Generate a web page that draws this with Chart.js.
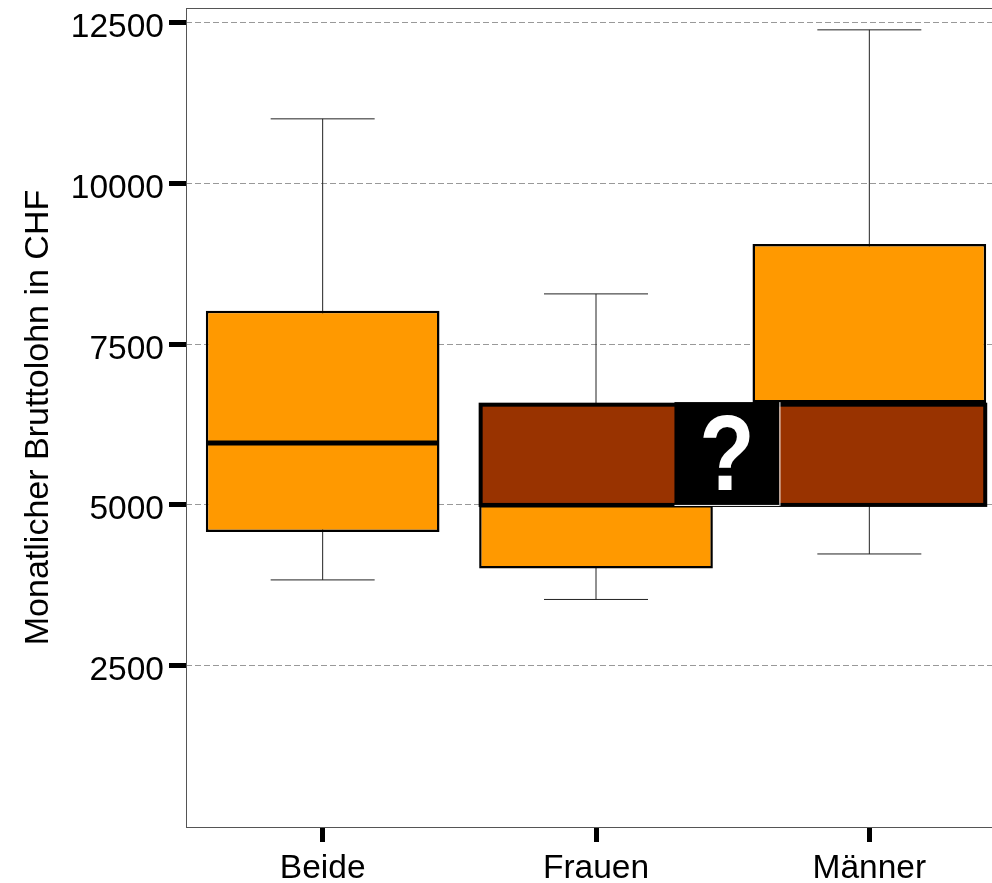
<!DOCTYPE html>
<html>
<head>
<meta charset="utf-8">
<script src="https://cdn.jsdelivr.net/npm/chart.js@4"></script>
<style>
  html, body { margin: 0; padding: 0; background: #fff; overflow: hidden; }
  canvas { display: block; }
</style>
</head>
<body>
<canvas id="grafico" width="1008" height="883"></canvas>
<script>
const categories = ["Beide", "Frauen", "Männer"];
const whiskerLow = [3833, 3529, 4237];
const whiskerHigh = [11008, 8284, 12393];
const q1 = [4580, 4012, 5100];
const median = [5965, 5000, 6595];
const q3 = [8020, 6500, 9060];
const yTicks = [2500, 5000, 7500, 10000, 12500];

// the band and the "?" box that hide part of the boxes, in axis units
const bandX = [0.578, 2.424];
const bandY = [5000, 6560];
const maskX = [1.287, 1.671];
const maskY = [5000, 6600];

const FONT = "'Liberation Sans', Arial, sans-serif";

// one line dataset per whisker, the caps are "line" points
const whiskers = categories.map((c, i) => ({
  type: "line",
  order: 3,
  data: [{ x: c, y: whiskerLow[i] }, { x: c, y: whiskerHigh[i] }],
  borderColor: "#222",
  borderWidth: 1,
  pointStyle: "line",
  pointRadius: 52,
  pointBorderColor: "#222",
  pointBorderWidth: 1,
}));

const medians = {
  type: "line",
  order: 1,
  data: median,
  showLine: false,
  pointStyle: "line",
  pointRadius: 116,
  pointBorderColor: "#000",
  pointBorderWidth: 5,
};

const boxes = {
  type: "bar",
  order: 2,
  data: categories.map((c, i) => [q1[i], q3[i]]),
  backgroundColor: "#ff9900",
  borderColor: "#000",
  borderWidth: 2.5,
  borderSkipped: false,
  categoryPercentage: 0.855,
  barPercentage: 1,
};

const overlay = {
  id: "overlay",
  afterDatasetsDraw(chart) {
    const { ctx, scales: { x, y }, chartArea } = chart;
    ctx.save();

    // plot frame
    ctx.strokeStyle = "#555";
    ctx.lineWidth = 1;
    ctx.strokeRect(chartArea.left + 0.5, chartArea.top + 0.5, chartArea.width + 1, chartArea.height);

    // brown band
    const bx = x.getPixelForValue(bandX[0]);
    const bw = x.getPixelForValue(bandX[1]) - bx;
    const by = y.getPixelForValue(bandY[1]);
    const bh = y.getPixelForValue(bandY[0]) - by;
    ctx.fillStyle = "#993300";
    ctx.fillRect(bx, by, bw, bh);
    ctx.strokeStyle = "#000";
    ctx.lineWidth = 4;
    ctx.strokeRect(bx, by, bw, bh);

    // black box with the question mark
    const mx = x.getPixelForValue(maskX[0]);
    const mw = x.getPixelForValue(maskX[1]) - mx;
    const my = y.getPixelForValue(maskY[1]);
    const mh = y.getPixelForValue(maskY[0]) - my;
    ctx.fillStyle = "#000";
    ctx.fillRect(mx, my, mw, mh);
    ctx.fillStyle = "#fff";
    ctx.fillRect(mx + mw, my, 1, mh + 1);
    ctx.fillRect(mx, my + mh, mw, 1);
    ctx.font = "bold 108px " + FONT;
    ctx.textAlign = "center";
    ctx.textBaseline = "alphabetic";
    ctx.translate(mx + mw / 2, my + mh - 15);
    ctx.scale(0.84, 1);
    ctx.fillText("?", 0, 0);

    ctx.restore();
  },
};

const config = {
  type: "bar",
  data: {
    labels: categories,
    datasets: [boxes, medians, ...whiskers],
  },
  options: {
    responsive: false,
    animation: false,
    layout: { autoPadding: false, padding: { top: 8, right: 2, left: 0, bottom: 0 } },
    plugins: { legend: { display: false }, tooltip: { enabled: false } },
    scales: {
      x: {
        offset: true,
        grid: {
          offset: false,
          drawOnChartArea: false,
          tickLength: 15,
          tickWidth: 5,
          tickColor: "#000",
        },
        border: { display: false },
        ticks: {
          color: "#000",
          padding: 7,
          maxRotation: 0,
          font: { family: FONT, size: 33.5 },
        },
        afterFit(scale) { scale.height = 56; },
      },
      y: {
        min: -12,
        max: 12733,
        afterBuildTicks(scale) { scale.ticks = yTicks.map((v) => ({ value: v })); },
        grid: {
          color: "#999",
          lineWidth: 1,
          tickLength: 17,
          tickWidth: 5,
          tickColor: "#000",
        },
        border: { display: false, dash: [6, 3] },
        ticks: {
          color: "#000",
          padding: 5,
          labelOffset: 5,
          font: { family: FONT, size: 33.5 },
          callback: (v) => String(v),
        },
        title: {
          display: true,
          text: "Monatlicher Bruttolohn in CHF",
          color: "#000",
          padding: { top: 18, bottom: 0 },
          font: { family: FONT, size: 34 },
        },
        afterFit(scale) {
          scale.width = 186;
          scale.paddingTop = 0;
          scale.paddingBottom = 0;
        },
      },
    },
  },
};

const grafico = new Chart(document.getElementById("grafico"), { ...config, plugins: [overlay] });
</script>
</body>
</html>
